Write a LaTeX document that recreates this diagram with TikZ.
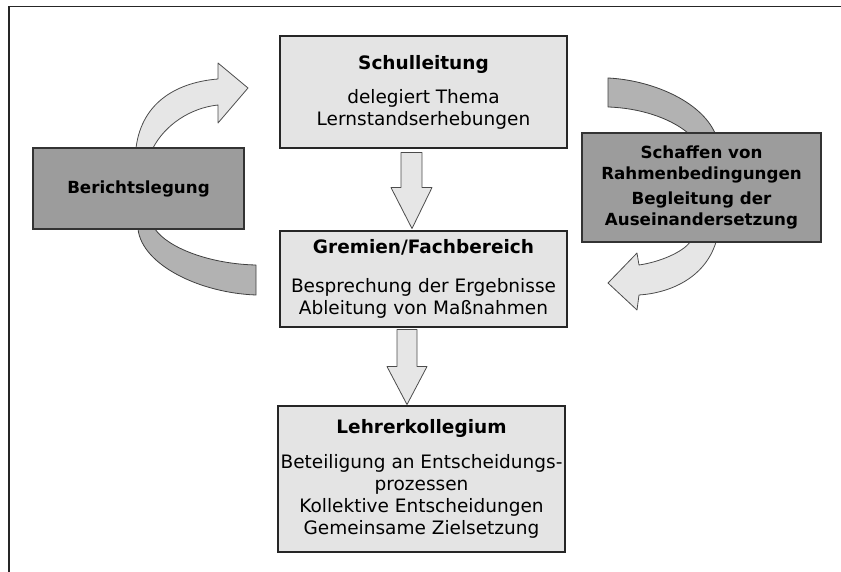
\documentclass[tikz,border=0pt]{standalone}
\usepackage{fontspec}
\setmainfont{DejaVu Sans}
\definecolor{boxlight}{RGB}{228,228,228}
\definecolor{boxdark}{RGB}{156,156,156}
\definecolor{arrowlight}{RGB}{230,230,230}
\definecolor{arrowdark}{RGB}{178,178,178}
\begin{document}
\begin{tikzpicture}[x=1pt,y=-1pt,
  lightbox/.style={draw=black!85, line width=1.1pt, fill=boxlight, inner sep=0pt, align=center,
    font=\fontsize{18.5}{22}\selectfont},
  darkbox/.style={draw=black!80, line width=1.1pt, fill=boxdark, inner sep=0pt, align=center,
    font=\fontsize{16.7}{21}\selectfont\bfseries},
  lightarrow/.style={draw=black!70, line width=0.8pt, fill=arrowlight, line join=round},
  darkarrow/.style={draw=black!75, line width=0.8pt, fill=arrowdark, line join=round}]

\useasboundingbox (0,0) rectangle (841,572);
\draw[line width=1.5pt, black!85] (9,572) -- (9,6.5) -- (841,6.5);

% left cycle arrow (behind Berichtslegung)
\draw[darkarrow] (256,295) .. controls (200,293) and (142,265) .. (138,229)
  -- (137,190) -- (154,190) -- (155,229)
  .. controls (168,248) and (210,264) .. (256,265) -- cycle;
\draw[lightarrow] (137,190) -- (136,148) .. controls (142,100) and (180,82) .. (218,79)
  -- (218,63) -- (248,88) -- (218,123) -- (218,105)
  .. controls (190,108) and (165,125) .. (153,148) -- (154,190) -- cycle;

% right cycle arrow (behind Schaffen box)
\draw[darkarrow] (608,78) .. controls (650,80) and (700,100) .. (715,133)
  -- (716,190) -- (689,190) -- (688,133)
  .. controls (670,118) and (640,108) .. (608,107) -- cycle;
\draw[lightarrow] (716,190) -- (716,242) .. controls (705,278) and (670,293) .. (639,295)
  -- (637,310) -- (608,283) -- (637,253) -- (639,265)
  .. controls (660,262) and (683,252) .. (690,242) -- (689,190) -- cycle;

% boxes
\node[lightbox, minimum width=287pt, minimum height=112pt] (sl) at (423.5,92)
  {{\bfseries Schulleitung}\\[12pt]delegiert Thema\\Lernstandserhebungen};
\node[lightbox, minimum width=287pt, minimum height=96pt] (gr) at (423.5,279)
  {{\bfseries Gremien/Fachbereich}\\[17pt]Besprechung der Ergebnisse\\Ableitung von Maßnahmen};
\node[lightbox, minimum width=287pt, minimum height=146pt] (lk) at (421.5,479)
  {{\bfseries Lehrerkollegium}\\[13pt]Beteiligung an Entscheidungs-\\prozessen\\Kollektive Entscheidungen\\Gemeinsame Zielsetzung};
\node[darkbox, minimum width=211pt, minimum height=81pt] (bl) at (138.5,188.5)
  {Berichtslegung};
\node[darkbox, minimum width=239pt, minimum height=109pt] (sr) at (701.5,187.5)
  {Schaffen von\\Rahmenbedingungen\\[4pt]Begleitung der\\Auseinandersetzung};

% down arrows between boxes
\draw[lightarrow] ([xshift=-22.5pt,yshift=-4pt]sl.south) -- ++(21,0) -- ++(0,35) -- ++(10,0)
  -- ++(-20,41) -- ++(-21,-41) -- ++(10,0) -- cycle;
\draw[lightarrow] ([xshift=-26.5pt,yshift=-2pt]gr.south) -- ++(20,0) -- ++(0,37) -- ++(10,0)
  -- ++(-20,38) -- ++(-20,-38) -- ++(10,0) -- cycle;
\end{tikzpicture}
\end{document}
